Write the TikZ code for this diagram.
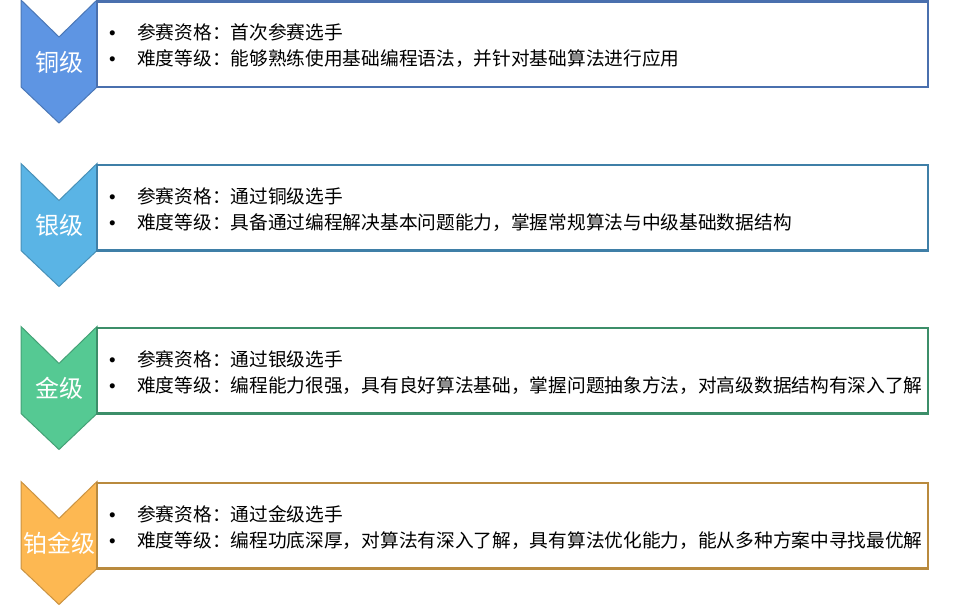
\documentclass[tikz,border=0pt]{standalone}
\usepackage{fontspec}
\setmainfont{Noto Sans CJK SC}
\newfontfamily\bulletfont{Liberation Sans}
\definecolor{bronzefill}{HTML}{5E95E3}
\definecolor{bronzeline}{HTML}{4A70AE}
\definecolor{silverfill}{HTML}{5AB4E5}
\definecolor{silverline}{HTML}{3F7FA7}
\definecolor{goldfill}{HTML}{55C993}
\definecolor{goldline}{HTML}{3C8E69}
\definecolor{platfill}{HTML}{FDB852}
\definecolor{platline}{HTML}{B98A3E}
\newcommand{\bul}{\makebox[28pt][l]{\bulletfont •}}
\begin{document}
\begin{tikzpicture}[x=1pt,y=-1pt,
  chevron/.style={line width=1pt},
  levelbox/.style={draw, line width=2.5pt, minimum width=831pt, minimum height=85.5pt, anchor=north west, inner sep=0pt, outer sep=0pt},
  rank/.style={text=white, inner sep=0pt, font=\fontsize{24}{28}\selectfont},
  itemtext/.style={anchor=west, align=left, inner sep=0pt, font=\fontsize{18.7}{26}\selectfont}]
  \useasboundingbox (0,0) rectangle (968,606);
  % bronze
  \draw[chevron, fill=bronzefill, draw=bronzefill!80!black] (21,0) -- (59,37) -- (97,0) -- (97,87) -- (59,123) -- (21,87) -- cycle;
  \node (bronze) [levelbox, draw=bronzeline] at (97,1.5) {};
  \node (bronzetag) [rank] at (59,62) {铜级};
  \node (bronzetext) [itemtext] at (109,46) {\bul 参赛资格：首次参赛选手\\ \bul 难度等级：能够熟练使用基础编程语法，并针对基础算法进行应用};
  % silver
  \draw[chevron, fill=silverfill, draw=silverfill!80!black] (21,163.5) -- (59,200.5) -- (97,163.5) -- (97,250.5) -- (59,286.5) -- (21,250.5) -- cycle;
  \node (silver) [levelbox, draw=silverline] at (97,165) {};
  \node (silvertag) [rank] at (59,225.5) {银级};
  \node (silvertext) [itemtext] at (109,209.5) {\bul 参赛资格：通过铜级选手\\ \bul 难度等级：具备通过编程解决基本问题能力，掌握常规算法与中级基础数据结构};
  % gold
  \draw[chevron, fill=goldfill, draw=goldfill!80!black] (21,326.5) -- (59,363.5) -- (97,326.5) -- (97,413.5) -- (59,449.5) -- (21,413.5) -- cycle;
  \node (gold) [levelbox, draw=goldline] at (97,328) {};
  \node (goldtag) [rank] at (59,388.5) {金级};
  \node (goldtext) [itemtext] at (109,372.5) {\bul 参赛资格：通过银级选手\\ \bul 难度等级：编程能力很强，具有良好算法基础，掌握问题抽象方法，对高级数据结构有深入了解};
  % platinum
  \draw[chevron, fill=platfill, draw=platfill!80!black] (21,481.5) -- (59,518.5) -- (97,481.5) -- (97,568.5) -- (59,604.5) -- (21,568.5) -- cycle;
  \node (plat) [levelbox, draw=platline] at (97,483) {};
  \node (plattag) [rank] at (59,543.5) {铂金级};
  \node (plattext) [itemtext] at (109,527.5) {\bul 参赛资格：通过金级选手\\ \bul 难度等级：编程功底深厚，对算法有深入了解，具有算法优化能力，能从多种方案中寻找最优解};
\end{tikzpicture}
\end{document}
